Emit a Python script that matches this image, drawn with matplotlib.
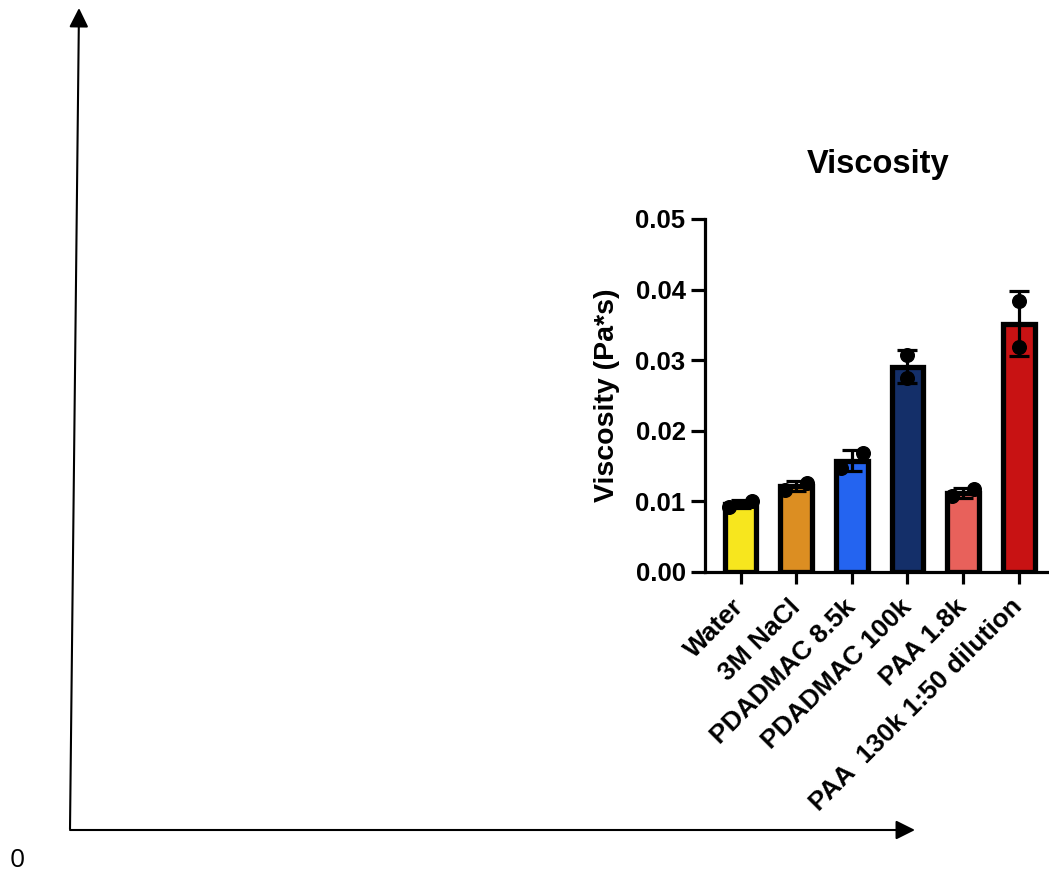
import numpy as np
import matplotlib
matplotlib.use("Agg")
import matplotlib.pyplot as plt

categories = ["Water", "3M NaCl", "PDADMAC 8.5k", "PDADMAC 100k", "PAA 1.8k",
              "PAA  130k 1:50 dilution"]
rep_low = [0.0092, 0.0116, 0.0147, 0.0274, 0.0107, 0.0319]
rep_high = [0.0100, 0.0126, 0.0168, 0.0307, 0.0117, 0.0384]
yticks = [0.00, 0.01, 0.02, 0.03, 0.04, 0.05]
ytick_labels = ["0.00", "0.01", "0.02", "0.03", "0.04", "0.05"]
bar_colors = ["#F7E61E", "#DC8E22", "#2464F0", "#142F69", "#E8615B", "#C81213"]

plt.rcParams['font.family'] = ['Liberation Sans', 'DejaVu Sans']

W, H = 1049, 871
fig = plt.figure(figsize=(W / 100, H / 100), dpi=100)

# background overlay axes in pixel coordinates
bg = fig.add_axes([0, 0, 1, 1])
bg.set_xlim(0, W)
bg.set_ylim(H, 0)
bg.axis('off')
arrow_style = dict(arrowstyle='-|>,head_length=0.4,head_width=0.2', mutation_scale=29,
                   lw=1.5, color='black', shrinkA=0, shrinkB=0)
bg.annotate('', xy=(79, 8), xytext=(70, 829), arrowprops=arrow_style)
bg.annotate('', xy=(915, 830), xytext=(70, 830), arrowprops=arrow_style)
bg.text(17, 860, "0", fontsize=19, family=['Open Sans', 'DejaVu Sans'],
        ha='center', va='center')

# main bar chart
x0, y0, y1 = 705, 571.7, 219
ax = fig.add_axes([x0 / W, (H - y0) / H, (W - x0) / W, (y0 - y1) / H])

data = np.array([rep_low, rep_high])
means = data.mean(axis=0)
sds = data.std(axis=0, ddof=1)
x = np.arange(len(categories))

ax.bar(x, means, width=0.57, color=bar_colors, edgecolor='black', linewidth=3.8, zorder=2)
ax.errorbar(x, means, yerr=sds, fmt='none', ecolor='black', elinewidth=2.3,
            capsize=7, capthick=2.3, zorder=3)

spread = np.abs(data[1] - data[0]) < 0.0025
offsets = np.where(spread, 0.2, 0.0)
ax.plot(x - offsets, data[0], 'o', color='black', markersize=9.8, zorder=4)
ax.plot(x + offsets, data[1], 'o', color='black', markersize=9.8, zorder=4)

ax.set_xlim(-0.64, 5.545)
ax.set_ylim(0, 0.05)
ax.set_yticks(yticks)
ax.set_yticklabels(ytick_labels, fontsize=18.5, fontweight='bold')
ax.set_xticks(x)
ax.set_xticklabels(categories, fontsize=19, fontweight='bold', rotation=45,
                   ha='right', va='center', rotation_mode='anchor')
ax.tick_params(axis='y', length=10, width=2.3, pad=4)
ax.tick_params(axis='x', length=8.6, width=2.3, pad=14)

for side in ['top', 'right']:
    ax.spines[side].set_visible(False)
for side in ['left', 'bottom']:
    ax.spines[side].set_linewidth(2.3)

ax.set_ylabel("Viscosity (Pa*s)", fontsize=20.5, fontweight='bold', va='center')
ax.yaxis.set_label_coords((607 - x0) / (W - x0), 0.5)
ax.set_title("Viscosity", fontsize=23.5, fontweight='bold', x=(878 - x0) / (W - x0),
             y=1 + (y1 - 173) / (y0 - y1), va='baseline', pad=0)
ax.patch.set_alpha(0)

fig.savefig("out.png", dpi=100)
